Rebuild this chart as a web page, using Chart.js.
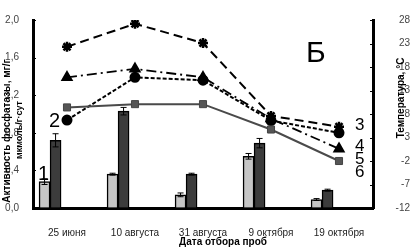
<!DOCTYPE html>
<html>
<head>
<meta charset="utf-8">
<script src="https://cdn.jsdelivr.net/npm/chart.js@4.4.1/dist/chart.umd.min.js"></script>
<style>
  html, body { margin: 0; padding: 0; background: #fff; }
  #wrap { width: 410px; height: 247px; }
</style>
</head>
<body>
<div id="wrap"><canvas id="chart" width="410" height="247"></canvas></div>
<script>
// --- data ---
const dates = ['25 июня', '10 августа', '31 августа', '9 октября', '19 октября'];

// bars (left axis)
const bars1 = [0.28, 0.36, 0.14, 0.55, 0.09];
const bars1Err = [0.03, 0.01, 0.02, 0.03, 0.01];
const bars2 = [0.72, 1.03, 0.36, 0.69, 0.19];
const bars2Err = [0.07, 0.04, 0.01, 0.05, 0.01];

// lines (right axis)
const starLine = [22.3, 27.2, 23.1, 7.6, 5.3];
const triangleLine = [15.8, 17.6, 15.8, 7.0, 0.6];
const circleLine = [6.7, 15.8, 15.2, 6.6, 4.0];
const squareLine = [9.4, 10.1, 10.1, 4.7, -2.0];

const leftTicks = [0, 0.4, 0.8, 1.2, 1.6, 2.0];
const rightTicks = [-12, -7, -2, 3, 8, 13, 18, 23, 28];

// the two bars sit side by side, left of the category centre (in category units)
const SHIFT1 = -0.33;
const SHIFT2 = -0.168;

const FONT = "'Liberation Sans', Arial, sans-serif";

// small error caps on top of the bars
const errorBars = {
    id: 'errorBars',
    afterDatasetsDraw(chart) {
        const ctx = chart.ctx;
        const yScale = chart.scales.y;
        [[0, bars1, bars1Err], [1, bars2, bars2Err]].forEach(([di, vals, errs]) => {
            const meta = chart.getDatasetMeta(di);
            meta.data.forEach((bar, i) => {
                const top = yScale.getPixelForValue(vals[i] + errs[i]);
                const bot = yScale.getPixelForValue(vals[i] - errs[i]);
                ctx.save();
                ctx.strokeStyle = '#000';
                ctx.lineWidth = 1;
                ctx.beginPath();
                ctx.moveTo(bar.x, top); ctx.lineTo(bar.x, bot);
                ctx.moveTo(bar.x - 3, top); ctx.lineTo(bar.x + 3, top);
                ctx.moveTo(bar.x - 3, bot); ctx.lineTo(bar.x + 3, bot);
                ctx.stroke();
                ctx.restore();
            });
        });
    }
};

// inward tick marks + free text (letters, series numbers, axis titles)
const notes = {
    id: 'notes',
    afterDraw(chart) {
        const ctx = chart.ctx;
        const yl = chart.scales.y, yr = chart.scales.y2;
        ctx.save();
        ctx.strokeStyle = '#000';
        ctx.lineWidth = 1;
        ctx.beginPath();
        leftTicks.forEach(v => {
            const p = Math.round(yl.getPixelForValue(v)) + 0.5;
            ctx.moveTo(yl.right, p); ctx.lineTo(yl.right + 3, p);
        });
        rightTicks.forEach(v => {
            const p = Math.round(yr.getPixelForValue(v)) + 0.5;
            ctx.moveTo(yr.left - 3, p); ctx.lineTo(yr.left, p);
        });
        ctx.stroke();

        ctx.fillStyle = '#000';
        ctx.textAlign = 'left';
        ctx.textBaseline = 'alphabetic';
        ctx.font = '30px ' + FONT;
        ctx.fillText('Б', 306, 62);

        ctx.font = '20px ' + FONT;
        ctx.fillText('1', 38, 180);
        ctx.fillText('2', 49, 127);

        ctx.font = '17px ' + FONT;
        ctx.fillText('3', 355, 130);
        ctx.fillText('4', 355, 151);
        ctx.fillText('5', 355, 164);
        ctx.fillText('6', 355, 177);

        ctx.textAlign = 'center';
        ctx.font = 'bold 10px ' + FONT;
        ctx.fillText('Дата отбора проб', 223, 245);

        // left axis title
        ctx.save();
        ctx.translate(10, 131);
        ctx.rotate(-Math.PI / 2);
        ctx.font = 'bold 10px ' + FONT;
        ctx.fillText('Активность фосфатазы, мг/г', 0, 0);
        ctx.restore();
        ctx.save();
        ctx.translate(22, 130);
        ctx.rotate(-Math.PI / 2);
        ctx.font = 'bold 9px ' + FONT;
        ctx.fillText('мкмоль/г·сут', 0, 0);
        ctx.restore();

        // right axis title
        ctx.save();
        ctx.translate(404, 98);
        ctx.rotate(-Math.PI / 2);
        ctx.font = 'bold 10px ' + FONT;
        ctx.fillText('Температура, °С', 0, 0);
        ctx.restore();

        ctx.restore();
    }
};

const ctx = document.getElementById('chart').getContext('2d');
new Chart(ctx, {
    data: {
        labels: dates,
        datasets: [
            {
                type: 'bar',
                data: bars1.map((v, i) => ({ x: i + SHIFT1, y: v })),
                xAxisID: 'xb', yAxisID: 'y',
                grouped: false,
                backgroundColor: '#c6c6c6',
                borderColor: '#000',
                borderWidth: 1.5,
                barThickness: 11,
                order: 2
            },
            {
                type: 'bar',
                data: bars2.map((v, i) => ({ x: i + SHIFT2, y: v })),
                xAxisID: 'xb', yAxisID: 'y',
                grouped: false,
                backgroundColor: '#3c3c3c',
                borderColor: '#000',
                borderWidth: 1.5,
                barThickness: 11,
                order: 2
            },
            {
                type: 'line',
                data: squareLine,
                xAxisID: 'x', yAxisID: 'y2',
                borderColor: '#4a4a4a',
                borderWidth: 2,
                pointStyle: 'rect',
                pointRadius: 5,
                pointBackgroundColor: '#555',
                pointBorderColor: '#444',
                pointBorderWidth: 1,
                order: 1
            },
            {
                type: 'line',
                data: circleLine,
                xAxisID: 'x', yAxisID: 'y2',
                borderColor: '#000',
                borderWidth: 2,
                borderDash: [4, 2],
                pointStyle: 'circle',
                pointRadius: 4.5,
                pointBackgroundColor: '#000',
                pointBorderColor: '#000',
                order: 1
            },
            {
                type: 'line',
                data: triangleLine,
                xAxisID: 'x', yAxisID: 'y2',
                borderColor: '#000',
                borderWidth: 1.8,
                borderDash: [10, 4, 2, 4],
                pointStyle: 'triangle',
                pointRadius: 5.5,
                pointBackgroundColor: '#000',
                pointBorderColor: '#000',
                order: 1
            },
            {
                type: 'line',
                data: starLine,
                xAxisID: 'x', yAxisID: 'y2',
                borderColor: '#000',
                borderWidth: 2,
                borderDash: [9, 5],
                pointStyle: 'star',
                pointRadius: 5,
                pointBorderWidth: 2.5,
                pointBackgroundColor: '#000',
                pointBorderColor: '#000',
                order: 1
            }
        ]
    },
    options: {
        responsive: false,
        animation: false,
        devicePixelRatio: 1,
        layout: { padding: { top: 0, left: 0, right: 0, bottom: 0 } },
        plugins: {
            legend: { display: false },
            tooltip: { enabled: false }
        },
        scales: {
            x: {
                type: 'category',
                offset: true,
                afterFit: s => { s.height = 39; },
                grid: { drawOnChartArea: false, drawTicks: false },
                border: { color: '#000', width: 3 },
                ticks: { color: '#222', padding: 19, maxRotation: 0, font: { family: FONT, size: 10 } }
            },
            // helper axis for the bars, laid out with the chart area but drawing nothing
            xb: {
                type: 'linear',
                position: 'bottom',
                min: -0.5,
                max: 4.5,
                offset: false,
                afterFit: s => { s.height = 0; },
                grid: { display: false },
                border: { display: false },
                ticks: { display: false }
            },
            y: {
                position: 'left',
                min: 0,
                max: 2,
                afterFit: s => { s.width = 33; },
                afterBuildTicks: s => { s.ticks = leftTicks.map(v => ({ value: v })); },
                grid: { drawOnChartArea: false, drawTicks: false },
                border: { color: '#000', width: 3 },
                ticks: {
                    color: '#444',
                    padding: 14,
                    font: { family: FONT, size: 10 },
                    callback: v => v.toFixed(1).replace('.', ',')
                }
            },
            y2: {
                position: 'right',
                min: -12,
                max: 28,
                afterFit: s => { s.width = 37; },
                afterBuildTicks: s => { s.ticks = rightTicks.map(v => ({ value: v })); },
                grid: { drawOnChartArea: false, drawTicks: false },
                border: { color: '#000', width: 3 },
                ticks: {
                    color: '#444',
                    padding: 6,
                    crossAlign: 'far',
                    font: { family: FONT, size: 10 }
                }
            }
        }
    },
    plugins: [errorBars, notes]
});
</script>
</body>
</html>
